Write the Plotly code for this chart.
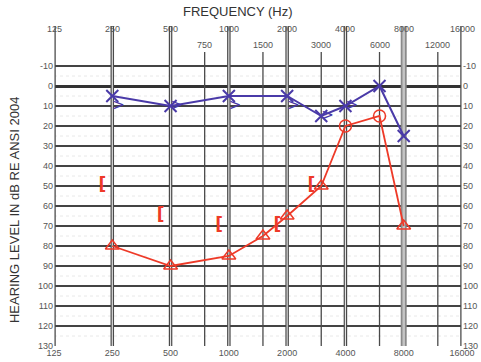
import math
import plotly.graph_objects as go

# ---- data ----
octave_freqs = [125, 250, 500, 1000, 2000, 4000, 8000, 16000]
mid_freqs = [750, 1500, 3000, 6000, 12000]
db_ticks = list(range(-10, 131, 10))
half_db = list(range(-5, 130, 10))

left_air_freq = [250, 500, 1000, 2000, 3000, 4000, 6000, 8000]
left_air_db = [5, 10, 5, 5, 15, 10, 0, 25]

left_bone_freq = [250, 500, 1000, 2000, 3000, 4000]
left_bone_db = [10, 10, 10, 10, 15, 10]

right_air_freq = [250, 500, 1000, 1500, 2000, 3000, 4000, 6000, 8000]
right_air_db = [80, 90, 85, 75, 65, 50, 20, 15, 70]
right_air_sym = ["triangle-up-open"] * 6 + ["circle-open", "circle-open", "triangle-up-open"]

right_bone_freq = [250, 500, 1000, 2000, 3000]
right_bone_db = [50, 65, 70, 70, 50]

BLUE = "#4a3aa8"
RED = "#ee3a28"
FONT = "Liberation Sans, Arial, sans-serif"

fig = go.Figure()

# left air (X)
fig.add_trace(go.Scatter(
    x=left_air_freq, y=left_air_db, mode="lines+markers",
    line=dict(color=BLUE, width=2),
    marker=dict(symbol="x-thin-open", size=12, line=dict(color=BLUE, width=2), color=BLUE),
    showlegend=False, hoverinfo="skip"))
# left bone (>)
fig.add_trace(go.Scatter(
    x=left_bone_freq, y=left_bone_db, mode="text", text=[">"] * len(left_bone_freq),
    textposition="middle right", textfont=dict(color=BLUE, size=15, family="DejaVu Sans"),
    showlegend=False, hoverinfo="skip"))
# right air (triangles / circles)
fig.add_trace(go.Scatter(
    x=right_air_freq, y=right_air_db, mode="lines+markers",
    line=dict(color=RED, width=1.8),
    marker=dict(symbol=right_air_sym, size=12, line=dict(color=RED, width=1.5), color=RED),
    showlegend=False, hoverinfo="skip"))
# right masked bone ([)
fig.add_trace(go.Scatter(
    x=right_bone_freq, y=right_bone_db, mode="text", text=["[ "] * len(right_bone_freq),
    textposition="middle left",
    textfont=dict(color=RED, size=17, family="DejaVu Sans", weight="bold"),
    showlegend=False, hoverinfo="skip"))
# invisible trace on right axis
fig.add_trace(go.Scatter(x=[1000], y=[0], yaxis="y2", mode="markers",
                         marker=dict(opacity=0), showlegend=False, hoverinfo="skip"))

shapes = []
# faint 5 dB lines
for d in half_db:
    shapes.append(dict(type="line", xref="paper", x0=0, x1=1, yref="y", y0=d, y1=d,
                       line=dict(color="#e8e8e8", width=1, dash="dot"), layer="below"))
# vertical octave lines
for f in octave_freqs:
    if f == 8000:
        shapes.append(dict(type="line", xref="x", x0=f, x1=f, yref="y", y0=130, y1=-30,
                           line=dict(color="#8a8a8a", width=6), layer="between"))
        shapes.append(dict(type="line", xref="x", x0=f, x1=f, yref="y", y0=130, y1=-30,
                           line=dict(color="#c4c4c4", width=2.5), layer="between"))
    else:
        shapes.append(dict(type="line", xref="x", x0=f, x1=f, yref="y", y0=130, y1=-30,
                           line=dict(color="#4a4a4a", width=3.5), layer="between"))
        shapes.append(dict(type="line", xref="x", x0=f, x1=f, yref="y", y0=130, y1=-30,
                           line=dict(color="#e6e6e6", width=1.1), layer="between"))
for f in mid_freqs:
    shapes.append(dict(type="line", xref="x", x0=f, x1=f, yref="y", y0=130, y1=-17,
                       line=dict(color="#4a4a4a", width=1.3), layer="between"))

annotations = []
for f in octave_freqs:
    annotations.append(dict(x=math.log10(f), y=-28.5, xref="x", yref="y", text=str(f),
                            showarrow=False,
                            font=dict(size=9, color="#555", family=FONT)))
for f in mid_freqs:
    annotations.append(dict(x=math.log10(f), y=-20.5, xref="x", yref="y", text=str(f),
                            showarrow=False, font=dict(size=9, color="#555", family=FONT)))
annotations.append(dict(x=0.451, y=1.044, xref="paper", yref="paper", text="FREQUENCY (Hz)",
                        xanchor="center", yanchor="middle",
                        showarrow=False, font=dict(size=13, color="#333", family=FONT)))
annotations.append(dict(x=-0.098, y=0.425, xref="paper", yref="paper",
                        xanchor="center", yanchor="middle",
                        text="HEARING LEVEL IN dB RE ANSI 2004", textangle=-90,
                        showarrow=False, font=dict(size=13, color="#333", family=FONT)))

fig.update_layout(
    width=481, height=362,
    margin=dict(l=54, r=19, t=26, b=16, autoexpand=False),
    paper_bgcolor="white", plot_bgcolor="white",
    font=dict(family=FONT, size=9, color="#555"),
    xaxis=dict(type="log", range=[math.log10(125), math.log10(16000)], tickvals=octave_freqs,
               ticktext=[str(f) for f in octave_freqs], showgrid=False, zeroline=False,
               showline=False, ticks="", automargin=False, tickfont=dict(size=9, color="#555")),
    yaxis=dict(range=[130, -30], tickvals=db_ticks, ticktext=[str(d) for d in db_ticks],
               showgrid=True, gridcolor="#444", gridwidth=1.5, zeroline=True,
               zerolinecolor="#333", zerolinewidth=2.5, showline=False, ticks="",
               automargin=False, tickfont=dict(size=9, color="#555")),
    yaxis2=dict(range=[130, -30], tickvals=db_ticks, ticktext=[str(d) for d in db_ticks],
                overlaying="y", side="right", showgrid=False, zeroline=False, ticks="",
                automargin=False, tickfont=dict(size=9, color="#555")),
    shapes=shapes, annotations=annotations, showlegend=False,
)

fig.write_html("out.html", config={"displayModeBar": False},
               post_script="document.body.style.margin='0';document.body.style.overflow='hidden';")
